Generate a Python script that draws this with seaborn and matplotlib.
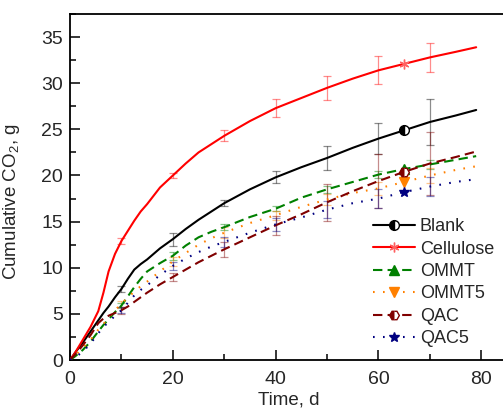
import matplotlib
matplotlib.use("Agg")
import matplotlib.pyplot as plt
import seaborn as sns
from matplotlib.ticker import MultipleLocator

# Время, сутки
days = [0, 1, 2.5, 4, 5.5, 6.5, 7.5, 8.75, 10, 11.25, 12.5, 13.75, 15, 17.5, 20, 22.5, 25, 27.5,
        30, 35, 40, 45, 50, 55, 60, 65, 70, 75, 79]

# Накопленный CO2, г
blank = [0, 0.8, 1.9, 3.1, 4.3, 5.1, 5.8, 6.8, 7.7, 8.8, 9.8, 10.4, 10.9, 12.1, 13.1, 14.2, 15.2, 16.1,
         17.0, 18.5, 19.8, 20.9, 21.9, 23.0, 24.0, 24.9, 25.8, 26.5, 27.1]
cellulose = [0, 0.8, 2.2, 3.6, 5.3, 7.3, 9.6, 11.5, 12.9, 14.0, 15.1, 16.1, 16.9, 18.7, 20.0, 21.3, 22.5, 23.4,
             24.3, 25.9, 27.3, 28.4, 29.5, 30.5, 31.4, 32.1, 32.8, 33.4, 33.9]
ommt = [0, 0.4, 1.1, 2.0, 3.1, 3.8, 4.4, 5.2, 5.9, 6.9, 7.9, 8.8, 9.6, 10.5, 11.3, 12.4, 13.3, 13.9,
        14.4, 15.5, 16.4, 17.6, 18.5, 19.3, 20.1, 20.7, 21.2, 21.7, 22.1]
ommt5 = [0, 0.5, 1.3, 2.2, 3.3, 3.9, 4.6, 5.4, 6.1, 6.8, 7.4, 8.0, 8.5, 9.6, 10.7, 11.6, 12.5, 13.2,
         13.8, 14.85, 15.7, 16.6, 17.4, 18.1, 18.6, 19.3, 20.0, 20.6, 21.0]
qac = [0, 0.6, 1.6, 2.7, 4.0, 4.5, 4.8, 5.1, 5.4, 5.8, 6.3, 6.8, 7.3, 8.2, 9.0, 9.8, 10.6, 11.3,
       12.0, 13.3, 14.6, 15.8, 17.1, 18.3, 19.4, 20.4, 21.3, 22.0, 22.6]
qac5 = [0, 0.3, 0.9, 1.8, 2.9, 3.6, 4.1, 4.8, 5.4, 6.2, 7.0, 7.6, 8.1, 9.2, 10.2, 11.0, 11.7, 12.3,
        12.8, 13.8, 14.7, 15.45, 16.3, 17.0, 17.5, 18.2, 18.8, 19.3, 19.6]

# Погрешности в точках измерений
err_days = [10, 20, 30, 40, 50, 60, 70]
blank_err = [0.35, 0.7, 0.35, 0.65, 1.35, 1.7, 2.5]
cellulose_err = [0.3, 0.3, 0.6, 0.95, 1.3, 1.5, 1.6]
ommt_err = [0.3, 0.45, 0.3, 0.3, 0.35, 0.4, 0.5]
ommt5_err = [0.3, 0.5, 0.6, 0.5, 0.6, 0.7, 0.8]
qac_err = [0.4, 0.45, 0.8, 1.0, 2.0, 2.9, 3.4]
qac5_err = [0.3, 0.4, 0.5, 0.7, 0.9, 1.0, 1.0]

marker_day = 65

sns.set_style("ticks")
plt.rcParams["font.family"] = ["Liberation Sans", "DejaVu Sans"]

fig = plt.figure(figsize=(5.03, 4.08), dpi=100)
ax = fig.add_axes([0.1392, 0.1176, 0.8688, 0.848])

dash = (0, (4.5, 2.5))
dot = (0, (0.8, 4))
series = [
    ("Blank", blank, blank_err, "black", "-", "o", "left"),
    ("Cellulose", cellulose, cellulose_err, "#ff0000", "-", (6, 2, 0), "full"),
    ("OMMT", ommt, ommt_err, "#008000", dash, "^", "full"),
    ("OMMT5", ommt5, ommt5_err, "#ff8000", dot, "v", "full"),
    ("QAC", qac, qac_err, "#800000", dash, "H", "left"),
    ("QAC5", qac5, qac5_err, "#000080", dot, "*", "full"),
]

mi = days.index(marker_day)
for name, vals, errs, color, ls, marker, fill in series:
    centers = [vals[days.index(d)] for d in err_days]
    ax.errorbar(err_days, centers, yerr=errs, fmt="none", ecolor=color,
                alpha=0.45, elinewidth=0.9, capsize=3, capthick=0.9, zorder=1)
    mec = "#ff6060" if name == "Cellulose" else color
    sns.lineplot(x=days, y=vals, ax=ax, color=color, linestyle=ls, lw=1.5,
                 marker=marker, markevery=[mi], markersize=7, fillstyle=fill,
                 markerfacecolor=color, markerfacecoloralt="white",
                 markeredgecolor=mec, markeredgewidth=1, label=name, zorder=3)

ax.set_xlim(0, 85)
ax.set_ylim(0, 37.5)
ax.xaxis.set_major_locator(MultipleLocator(20))
ax.xaxis.set_minor_locator(MultipleLocator(10))
ax.yaxis.set_major_locator(MultipleLocator(5))
ax.yaxis.set_minor_locator(MultipleLocator(2.5))
ax.tick_params(which="both", direction="in", width=1.1, color="black",
               top=False, right=False, labelsize=14)
ax.tick_params(which="major", length=7)
ax.tick_params(which="minor", length=4)
ax.tick_params(axis="x", pad=8)
ax.tick_params(axis="y", pad=5)
for sp in ax.spines.values():
    sp.set_linewidth(1.3)
    sp.set_color("black")

ax.set_xlabel("Time, d", fontsize=13.5)
ax.set_ylabel(r"Cumulative CO$_\mathregular{2}$, g", fontsize=13.5)
ax.xaxis.set_label_coords(0.5, -0.092)
ax.yaxis.set_label_coords(-0.11, 0.457)

ax.legend(loc="upper left", bbox_to_anchor=(0.693, 0.41), frameon=False,
          borderpad=0, borderaxespad=0, handlelength=2.33, handletextpad=0.28,
          labelspacing=0.3, fontsize=13)

fig.savefig("out.png", dpi=100)
